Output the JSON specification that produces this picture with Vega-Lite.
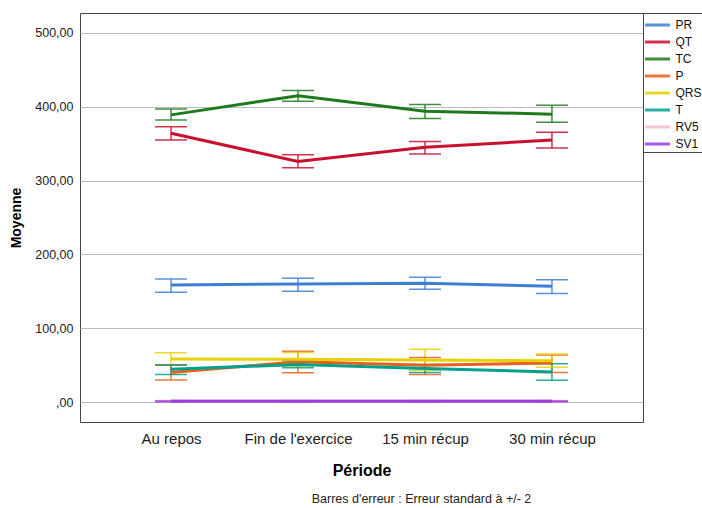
{
  "$schema": "https://vega.github.io/schema/vega-lite/v6.json",
  "autosize": "none",
  "padding": {"left": 80, "top": 13, "right": 59, "bottom": 86},
  "width": 563,
  "height": 409,
  "background": "white",
  "config": {
    "font": "Liberation Sans",
    "view": {"stroke": "#444", "strokeWidth": 1}
  },
  "title": {
    "text": "Barres d'erreur : Erreur standard à +/- 2",
    "orient": "bottom",
    "anchor": "middle",
    "dx": 60,
    "offset": 15,
    "fontSize": 12.5,
    "fontWeight": "normal",
    "color": "#222",
    "font": "Liberation Sans"
  },
  "data": {
    "values": [
      {"periode": "Au repos", "var": "PR", "mean": 158.5, "lo": 148.6, "hi": 166.7},
      {"periode": "Fin de l'exercice", "var": "PR", "mean": 160, "lo": 150, "hi": 167.6},
      {"periode": "15 min récup", "var": "PR", "mean": 161, "lo": 152.7, "hi": 169},
      {"periode": "30 min récup", "var": "PR", "mean": 157, "lo": 147, "hi": 165.7},
      {"periode": "Au repos", "var": "QT", "mean": 364, "lo": 355, "hi": 373},
      {"periode": "Fin de l'exercice", "var": "QT", "mean": 326, "lo": 317.5, "hi": 335},
      {"periode": "15 min récup", "var": "QT", "mean": 345, "lo": 336, "hi": 353},
      {"periode": "30 min récup", "var": "QT", "mean": 355, "lo": 344, "hi": 365.5},
      {"periode": "Au repos", "var": "TC", "mean": 389, "lo": 382, "hi": 397},
      {"periode": "Fin de l'exercice", "var": "TC", "mean": 415, "lo": 407.5, "hi": 422},
      {"periode": "15 min récup", "var": "TC", "mean": 394, "lo": 384, "hi": 403},
      {"periode": "30 min récup", "var": "TC", "mean": 390, "lo": 379, "hi": 402},
      {"periode": "Au repos", "var": "P", "mean": 40, "lo": 30, "hi": 50},
      {"periode": "Fin de l'exercice", "var": "P", "mean": 54.6, "lo": 39.7, "hi": 69},
      {"periode": "15 min récup", "var": "P", "mean": 50, "lo": 37.5, "hi": 60.5},
      {"periode": "30 min récup", "var": "P", "mean": 53, "lo": 40, "hi": 63.7},
      {"periode": "Au repos", "var": "QRS", "mean": 58.3, "lo": 50, "hi": 66.8},
      {"periode": "Fin de l'exercice", "var": "QRS", "mean": 58, "lo": 49, "hi": 67.3},
      {"periode": "15 min récup", "var": "QRS", "mean": 57, "lo": 43, "hi": 71.4},
      {"periode": "30 min récup", "var": "QRS", "mean": 56, "lo": 47, "hi": 65},
      {"periode": "Au repos", "var": "T", "mean": 44.3, "lo": 37.5, "hi": 50.5},
      {"periode": "Fin de l'exercice", "var": "T", "mean": 51, "lo": 46.5, "hi": 56},
      {"periode": "15 min récup", "var": "T", "mean": 45.5, "lo": 40, "hi": 51},
      {"periode": "30 min récup", "var": "T", "mean": 40.7, "lo": 29.4, "hi": 52},
      {"periode": "Au repos", "var": "RV5", "mean": 1.5, "lo": 1, "hi": 2},
      {"periode": "Fin de l'exercice", "var": "RV5", "mean": 1.5, "lo": 1, "hi": 2},
      {"periode": "15 min récup", "var": "RV5", "mean": 1.5, "lo": 1, "hi": 2},
      {"periode": "30 min récup", "var": "RV5", "mean": 1.5, "lo": 1, "hi": 2},
      {"periode": "Au repos", "var": "SV1", "mean": 1, "lo": 0.5, "hi": 1.5},
      {"periode": "Fin de l'exercice", "var": "SV1", "mean": 1, "lo": 0.5, "hi": 1.5},
      {"periode": "15 min récup", "var": "SV1", "mean": 1, "lo": 0.5, "hi": 1.5},
      {"periode": "30 min récup", "var": "SV1", "mean": 1, "lo": 0.5, "hi": 1.5}
    ]
  },
  "encoding": {
    "x": {
      "field": "periode",
      "type": "ordinal",
      "sort": ["Au repos", "Fin de l'exercice", "15 min récup", "30 min récup"],
      "scale": {"type": "point", "padding": 0.717},
      "axis": {
        "title": "Période",
        "titleFont": "Liberation Sans",
        "titleFontSize": 16,
        "titleFontWeight": "bold",
        "titleColor": "#000",
        "titlePadding": 16,
        "labelFont": "Liberation Sans",
        "labelFontSize": 15,
        "labelColor": "#222",
        "labelPadding": 9,
        "labelAngle": 0,
        "ticks": false,
        "domain": false,
        "grid": false
      }
    },
    "color": {
      "field": "var",
      "type": "nominal",
      "scale": {
        "domain": ["PR", "QT", "TC", "P", "QRS", "T", "RV5", "SV1"],
        "range": ["#3d7fd6", "#c8102e", "#1f7a1f", "#e8601c", "#e6d200", "#00a08c", "#f7b8d2", "#9b3de0"]
      },
      "legend": {
        "title": null,
        "orient": "right",
        "offset": 0,
        "symbolType": "M-1.18,0H1.76",
        "symbolSize": 289,
        "symbolStrokeWidth": 3,
        "labelFont": "Liberation Sans",
        "labelFontSize": 12,
        "labelColor": "#111",
        "labelOffset": 10.5,
        "rowPadding": 1,
        "padding": 2,
        "strokeColor": "#444",
        "fillColor": "white"
      }
    }
  },
  "layer": [
    {
      "mark": {"type": "rule", "strokeWidth": 1.5, "opacity": 0.85},
      "encoding": {
        "y": {"field": "lo", "type": "quantitative"},
        "y2": {"field": "hi"}
      }
    },
    {
      "mark": {"type": "tick", "size": 32, "thickness": 1.5, "opacity": 0.85},
      "encoding": {"y": {"field": "lo", "type": "quantitative"}}
    },
    {
      "mark": {"type": "tick", "size": 32, "thickness": 1.5, "opacity": 0.85},
      "encoding": {"y": {"field": "hi", "type": "quantitative"}}
    },
    {
      "mark": {"type": "line", "strokeWidth": 3},
      "encoding": {
        "y": {
          "field": "mean",
          "type": "quantitative",
          "scale": {"domain": [-27, 527], "nice": false, "zero": false},
          "axis": {
            "title": "Moyenne",
            "titleFont": "Liberation Sans",
            "titleFontSize": 14,
            "titleFontWeight": "bold",
            "titleColor": "#000",
            "titlePadding": 11,
            "values": [0, 100, 200, 300, 400, 500],
            "labelExpr": "datum.value == 0 ? ',00' : format(datum.value, 'd') + ',00'",
            "labelFont": "Liberation Sans",
            "labelFontSize": 12.5,
            "labelColor": "#222",
            "labelPadding": 7,
            "ticks": false,
            "domain": false,
            "grid": true,
            "gridColor": "#bbbbbb",
            "gridWidth": 1
          }
        }
      }
    }
  ]
}
